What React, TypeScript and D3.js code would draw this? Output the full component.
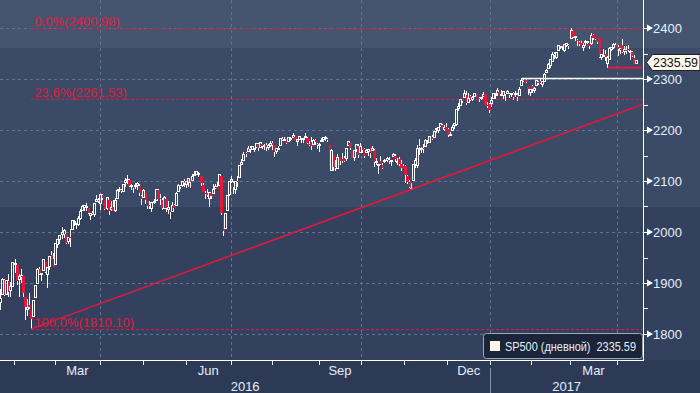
import * as d3 from 'd3';

// [day, open, high, low, close]
type Row = [number, number, number, number, number];

const jan16: Row[] = [
  [20, 1876, 1876, 1812, 1859], [21, 1861, 1889, 1848, 1869], [22, 1877, 1909, 1877, 1907], [25, 1906, 1907, 1875, 1877],
  [26, 1878, 1906, 1878, 1904], [27, 1903, 1917, 1872, 1883], [28, 1886, 1902, 1873, 1893], [29, 1894, 1940, 1894, 1940],
];
const feb16: Row[] = [
  [1, 1937, 1947, 1920, 1939], [2, 1935, 1935, 1897, 1903], [3, 1907, 1918, 1872, 1913], [4, 1911, 1927, 1900, 1915],
  [5, 1913, 1913, 1872, 1880], [8, 1873, 1873, 1828, 1853], [9, 1848, 1868, 1835, 1852], [10, 1857, 1881, 1850, 1852],
  [11, 1847, 1847, 1810.1, 1829], [12, 1834, 1865, 1834, 1865], [16, 1872, 1896, 1872, 1896], [17, 1899, 1930, 1899, 1927],
  [18, 1928, 1931, 1916, 1918], [19, 1916, 1918, 1903, 1918], [22, 1925, 1947, 1925, 1946], [23, 1942, 1942, 1920, 1921],
  [24, 1917, 1932, 1891, 1930], [25, 1932, 1952, 1926, 1952], [26, 1955, 1962, 1947, 1948], [29, 1948, 1958, 1932, 1932],
];
const mar16: Row[] = [
  [1, 1937, 1978, 1937, 1978], [2, 1976, 1987, 1969, 1986], [3, 1985, 1993, 1977, 1993], [4, 1995, 2009, 1987, 2000],
  [7, 1996, 2006, 1989, 2002], [8, 1996, 1996, 1977, 1979], [9, 1982, 1989, 1977, 1989], [10, 1991, 2006, 1970, 1990],
  [11, 2005, 2022, 2005, 2022], [14, 2019, 2024, 2012, 2020], [15, 2016, 2016, 2006, 2016], [16, 2015, 2032, 2011, 2027],
  [17, 2027, 2046, 2023, 2041], [18, 2042, 2053, 2042, 2050], [21, 2049, 2053, 2042, 2052], [22, 2049, 2056, 2041, 2050],
  [23, 2048, 2048, 2035, 2037], [24, 2032, 2036, 2023, 2036], [28, 2038, 2041, 2033, 2037], [29, 2035, 2056, 2029, 2055],
  [30, 2060, 2073, 2060, 2064], [31, 2063, 2067, 2057, 2060],
];
const apr16: Row[] = [
  [1, 2056, 2075, 2044, 2073], [4, 2073, 2074, 2062, 2066], [5, 2063, 2063, 2043, 2045], [6, 2046, 2068, 2043, 2067],
  [7, 2063, 2063, 2033, 2042], [8, 2045, 2060, 2041, 2048], [11, 2050, 2062, 2041, 2042], [12, 2043, 2066, 2040, 2062],
  [13, 2066, 2084, 2066, 2082], [14, 2082, 2088, 2078, 2083], [15, 2083, 2084, 2076, 2081], [18, 2079, 2095, 2078, 2094],
  [19, 2097, 2105, 2088, 2101], [20, 2101, 2111, 2094, 2102], [21, 2102, 2104, 2089, 2091], [22, 2092, 2095, 2082, 2092],
  [25, 2089, 2089, 2077, 2088], [26, 2090, 2096, 2085, 2092], [27, 2092, 2099, 2083, 2095], [28, 2091, 2094, 2071, 2076],
  [29, 2071, 2073, 2053, 2065],
];
const may16: Row[] = [
  [2, 2067, 2084, 2067, 2081], [3, 2077, 2077, 2054, 2063], [4, 2060, 2060, 2046, 2051], [5, 2053, 2060, 2045, 2051],
  [6, 2047, 2058, 2040, 2057], [9, 2057, 2065, 2054, 2059], [10, 2062, 2085, 2062, 2084], [11, 2083, 2084, 2064, 2064],
  [12, 2067, 2074, 2053, 2064], [13, 2063, 2067, 2044, 2047], [16, 2047, 2071, 2047, 2067], [17, 2065, 2065, 2040, 2047],
  [18, 2045, 2061, 2035, 2048], [19, 2044, 2044, 2025, 2040], [20, 2041, 2058, 2041, 2052], [23, 2053, 2055, 2048, 2048],
  [24, 2052, 2079, 2052, 2076], [25, 2079, 2094, 2079, 2091], [26, 2091, 2093, 2085, 2090], [27, 2091, 2099, 2089, 2099],
  [31, 2100, 2104, 2089, 2097],
];
const jun16: Row[] = [
  [1, 2093, 2100, 2086, 2099], [2, 2097, 2105, 2089, 2105], [3, 2104, 2104, 2086, 2099], [6, 2101, 2113, 2101, 2109],
  [7, 2110, 2120, 2110, 2112], [8, 2113, 2120, 2111, 2119], [9, 2115, 2117, 2107, 2115], [10, 2110, 2110, 2090, 2096],
  [13, 2092, 2096, 2078, 2079], [14, 2076, 2081, 2064, 2075], [15, 2077, 2085, 2069, 2072], [16, 2066, 2079, 2050, 2078],
  [17, 2077, 2077, 2065, 2071], [20, 2076, 2094, 2076, 2083], [21, 2085, 2094, 2084, 2089], [22, 2089, 2099, 2084, 2085],
  [23, 2092, 2113, 2092, 2113], [24, 2110, 2110, 2033, 2037], [27, 2031, 2031, 1992, 2001], [28, 2007, 2036, 2007, 2036],
  [29, 2043, 2071, 2043, 2071], [30, 2073, 2099, 2071, 2099],
];
const jul16: Row[] = [
  [1, 2099, 2109, 2097, 2103], [5, 2096, 2100, 2075, 2089], [6, 2084, 2100, 2074, 2100], [7, 2100, 2109, 2089, 2098],
  [8, 2107, 2131, 2107, 2130], [11, 2132, 2144, 2132, 2137], [12, 2140, 2156, 2140, 2152], [13, 2154, 2156, 2147, 2152],
  [14, 2158, 2169, 2158, 2164], [15, 2165, 2169, 2155, 2162], [18, 2162, 2169, 2160, 2167], [19, 2164, 2164, 2157, 2164],
  [20, 2166, 2175, 2166, 2173], [21, 2173, 2174, 2159, 2165], [22, 2166, 2175, 2164, 2175], [25, 2173, 2173, 2162, 2168],
  [26, 2169, 2173, 2161, 2169], [27, 2170, 2174, 2159, 2167], [28, 2166, 2173, 2160, 2170], [29, 2169, 2178, 2166, 2174],
];
const aug16: Row[] = [
  [1, 2174, 2178, 2161, 2171], [2, 2170, 2170, 2148, 2157], [3, 2157, 2164, 2153, 2164], [4, 2163, 2169, 2160, 2164],
  [5, 2169, 2183, 2169, 2183], [8, 2183, 2186, 2178, 2181], [9, 2182, 2187, 2180, 2182], [10, 2182, 2183, 2172, 2175],
  [11, 2178, 2186, 2178, 2186], [12, 2183, 2186, 2179, 2184], [15, 2186, 2194, 2186, 2190], [16, 2186, 2186, 2178, 2178],
  [17, 2178, 2183, 2169, 2182], [18, 2181, 2188, 2180, 2187], [19, 2184, 2185, 2175, 2184], [22, 2182, 2185, 2175, 2183],
  [23, 2187, 2194, 2186, 2187], [24, 2185, 2186, 2172, 2175], [25, 2173, 2179, 2169, 2172], [26, 2176, 2187, 2160, 2169],
  [29, 2171, 2183, 2171, 2180], [30, 2180, 2183, 2170, 2176], [31, 2173, 2174, 2162, 2171],
];
const sep16: Row[] = [
  [1, 2171, 2174, 2157, 2171], [2, 2178, 2185, 2176, 2180], [6, 2181, 2187, 2176, 2186], [7, 2186, 2188, 2179, 2186],
  [8, 2183, 2185, 2177, 2181], [9, 2170, 2170, 2128, 2128], [12, 2121, 2163, 2120, 2159], [13, 2151, 2151, 2120, 2127],
  [14, 2128, 2141, 2119, 2126], [15, 2125, 2152, 2124, 2147], [16, 2146, 2146, 2131, 2139], [19, 2143, 2154, 2135, 2139],
  [20, 2146, 2150, 2138, 2140], [21, 2145, 2165, 2139, 2163], [22, 2170, 2179, 2170, 2177], [23, 2174, 2174, 2161, 2165],
  [26, 2158, 2158, 2145, 2146], [27, 2146, 2161, 2140, 2160], [28, 2161, 2173, 2156, 2171], [29, 2169, 2173, 2146, 2151],
  [30, 2156, 2175, 2156, 2168],
];
const oct16: Row[] = [
  [3, 2164, 2164, 2154, 2161], [4, 2163, 2165, 2145, 2150], [5, 2155, 2163, 2155, 2160], [6, 2158, 2163, 2150, 2161],
  [7, 2164, 2165, 2145, 2154], [10, 2160, 2169, 2160, 2164], [11, 2161, 2163, 2128, 2137], [12, 2138, 2146, 2132, 2139],
  [13, 2131, 2131, 2114, 2133], [14, 2140, 2149, 2132, 2133], [17, 2132, 2135, 2124, 2126], [18, 2138, 2144, 2135, 2140],
  [19, 2140, 2148, 2138, 2144], [20, 2142, 2148, 2133, 2141], [21, 2139, 2142, 2130, 2141], [24, 2149, 2155, 2149, 2151],
  [25, 2150, 2152, 2137, 2143], [26, 2137, 2146, 2131, 2139], [27, 2144, 2147, 2130, 2133], [28, 2133, 2142, 2120, 2126],
  [31, 2129, 2133, 2125, 2126],
];
const nov16: Row[] = [
  [1, 2129, 2132, 2097, 2112], [2, 2110, 2112, 2094, 2098], [3, 2098, 2102, 2086, 2089], [4, 2085, 2096, 2083.79, 2085],
  [7, 2101, 2132, 2101, 2132], [8, 2132, 2146, 2126, 2140], [9, 2131, 2170, 2125, 2163], [10, 2168, 2182, 2151, 2167],
  [11, 2162, 2166, 2154, 2164], [14, 2165, 2172, 2154, 2164], [15, 2168, 2182, 2168, 2180], [16, 2177, 2180, 2172, 2177],
  [17, 2176, 2189, 2175, 2187], [18, 2187, 2190, 2180, 2182], [21, 2186, 2198, 2186, 2198], [22, 2202, 2204, 2195, 2203],
  [23, 2199, 2205, 2195, 2205], [25, 2207, 2214, 2207, 2213], [28, 2210, 2212, 2201, 2202], [29, 2201, 2210, 2198, 2205],
  [30, 2205, 2214, 2198, 2199],
];
const dec16: Row[] = [
  [1, 2201, 2203, 2187, 2191], [2, 2191, 2197, 2188, 2192], [5, 2200, 2210, 2200, 2205], [6, 2208, 2213, 2202, 2212],
  [7, 2211, 2242, 2208, 2241], [8, 2242, 2252, 2238, 2246], [9, 2249, 2259, 2248, 2260], [12, 2258, 2258, 2252, 2257],
  [13, 2263, 2278, 2262, 2272], [14, 2269, 2277, 2249, 2253], [15, 2254, 2272, 2254, 2262], [16, 2267, 2269, 2257, 2258],
  [19, 2259, 2267, 2257, 2263], [20, 2266, 2272, 2265, 2271], [21, 2270, 2271, 2264, 2265], [22, 2263, 2264, 2254, 2261],
  [23, 2261, 2264, 2258, 2264], [27, 2266, 2274, 2266, 2269], [28, 2270, 2271, 2250, 2250], [29, 2250, 2254, 2244, 2249],
  [30, 2251, 2253, 2234, 2239],
];
const jan17: Row[] = [
  [3, 2251, 2264, 2245, 2258], [4, 2261, 2273, 2261, 2271], [5, 2268, 2272, 2261, 2269], [6, 2272, 2283, 2266, 2277],
  [9, 2274, 2275, 2269, 2269], [10, 2269, 2279, 2266, 2269], [11, 2268, 2275, 2261, 2275], [12, 2272, 2272, 2257, 2270],
  [13, 2272, 2279, 2271, 2275], [17, 2270, 2272, 2263, 2268], [18, 2270, 2272, 2264, 2272], [19, 2272, 2274, 2259, 2264],
  [20, 2269, 2277, 2264, 2271], [23, 2268, 2272, 2257, 2265], [24, 2267, 2284, 2266, 2280], [25, 2288, 2300.99, 2288, 2298],
  [26, 2299, 2300, 2294, 2297], [27, 2299, 2300, 2292, 2295], [30, 2287, 2287, 2268, 2281], [31, 2274, 2279, 2267, 2279],
];
const feb17: Row[] = [
  [1, 2286, 2289, 2272, 2280], [2, 2277, 2284, 2273, 2281], [3, 2288, 2299, 2288, 2297], [6, 2294, 2296, 2288, 2293],
  [7, 2296, 2300, 2291, 2293], [8, 2290, 2296, 2285, 2295], [9, 2296, 2311, 2296, 2308], [10, 2312, 2319, 2312, 2316],
  [13, 2321, 2331, 2321, 2328], [14, 2327, 2338, 2321, 2338], [15, 2335, 2352, 2335, 2349], [16, 2350, 2352, 2339, 2347],
  [17, 2343, 2352, 2339, 2351], [21, 2355, 2367, 2355, 2365], [22, 2363, 2365, 2358, 2363], [23, 2368, 2369, 2356, 2364],
  [24, 2355, 2367, 2353, 2367], [27, 2366, 2371, 2362, 2370], [28, 2367, 2368, 2358, 2364],
];
const mar17: Row[] = [
  [1, 2380, 2400.98, 2380, 2396], [2, 2395, 2395, 2380, 2382], [3, 2381, 2384, 2375, 2383], [6, 2376, 2378, 2365, 2375],
  [7, 2373, 2375, 2365, 2368], [8, 2371, 2374, 2362, 2363], [9, 2362, 2370, 2354, 2365], [10, 2372, 2376, 2364, 2373],
  [13, 2371, 2374, 2368, 2373], [14, 2368, 2368, 2358, 2365], [15, 2370, 2390, 2366, 2385], [16, 2387, 2388, 2377, 2381],
  [17, 2384, 2385, 2377, 2378], [20, 2378, 2379, 2369, 2373], [21, 2380, 2381, 2341, 2344], [22, 2343, 2350, 2337, 2348],
  [23, 2346, 2358, 2343, 2346], [24, 2350, 2357, 2335, 2344], [27, 2330, 2345, 2322.25, 2342], [28, 2339, 2363, 2337, 2359],
  [29, 2357, 2363, 2354, 2361], [30, 2361, 2370, 2358, 2368], [31, 2366, 2370, 2362, 2363],
];
const apr17: Row[] = [
  [3, 2363, 2366, 2345, 2359], [4, 2356, 2361, 2350, 2360], [5, 2367, 2379, 2351, 2353], [6, 2353, 2365, 2348, 2357],
  [7, 2357, 2364, 2349, 2356], [10, 2358, 2367, 2352, 2357], [11, 2354, 2356, 2337, 2354], [12, 2353, 2354, 2343, 2345],
  [13, 2342, 2348, 2329, 2329], [14, 2331, 2337, 2330, 2335.59],
];

const monthBlocks: [number, number, Row[]][] = [
  [2016, 0, jan16], [2016, 1, feb16], [2016, 2, mar16], [2016, 3, apr16], [2016, 4, may16], [2016, 5, jun16],
  [2016, 6, jul16], [2016, 7, aug16], [2016, 8, sep16], [2016, 9, oct16], [2016, 10, nov16], [2016, 11, dec16],
  [2017, 0, jan17], [2017, 1, feb17], [2017, 2, mar17], [2017, 3, apr17],
];

const yTickValues = [1800, 1900, 2000, 2100, 2200, 2300, 2400];
const yMinorValues = [1850, 1950, 2050, 2150, 2250, 2350];
const monthNames = ['Jan', 'Feb', 'Mar', 'Apr', 'May', 'Jun', 'Jul', 'Aug', 'Sep', 'Oct', 'Nov', 'Dec'];
const labelledMonths = [2, 5, 8, 11];
const gridMonths = [0, 3, 6, 9];

const fibHigh = 2400.98;
const fibLow = 1810.1;
const fibRatios = [0, 0.236, 1];
const legendLabel = 'SP500 (дневной)';
const lastPrice = '2335.59';

interface Candle { date: Date; open: number; high: number; low: number; close: number }

const candles: Candle[] = monthBlocks.flatMap(([yr, m, rows]) =>
  rows.map(([d, o, h, l, c]) => ({ date: new Date(yr, m, d), open: o, high: h, low: l, close: c }))
);

// first candle index of each month
const monthStarts: { yr: number; m: number; idx: number }[] = [];
candles.forEach((c, i) => {
  const prev = candles[i - 1];
  if (!prev || prev.date.getMonth() !== c.date.getMonth()) {
    monthStarts.push({ yr: c.date.getFullYear(), m: c.date.getMonth(), idx: i });
  }
});
const startIdx = (yr: number, m: number) => monthStarts.find((s) => s.yr === yr && s.m === m)!.idx;
const findIdx = (yr: number, m: number, d: number) =>
  candles.findIndex((c) => c.date.getFullYear() === yr && c.date.getMonth() === m && c.date.getDate() === d);

const W = 700;
const H = 393;
const plotRight = 643;
const plotBottom = 360;

const x = d3.scaleLinear().domain([startIdx(2016, 1) - 0.5, startIdx(2017, 3) - 0.5]).range([14, 617]);
const y = d3.scaleLinear().domain([1800, 2400]).range([334, 28]);

const RED = '#e5183c';
const GRID = '#5a7692';
const TXT = '#e4eefa';

export default function App() {
  const lowIdx = findIdx(2016, 1, 11);
  const novIdx = findIdx(2016, 10, 4);
  const jan25Idx = findIdx(2017, 0, 25);
  const mar27Idx = findIdx(2017, 2, 27);
  const endIdx = x.invert(plotRight);
  const slope = (candles[novIdx].low - candles[lowIdx].low) / (novIdx - lowIdx);
  const trendEnd = candles[lowIdx].low + slope * (endIdx - lowIdx);

  const boundaries = monthStarts.map((s) => ({ ...s, px: x(s.idx - 0.5) })).filter((s) => s.px >= 0);
  const nextPx = (i: number) => (i + 1 < boundaries.length ? boundaries[i + 1].px : x(startIdx(2017, 3) + 21 - 0.5));
  const janPx = x(startIdx(2017, 0) - 0.5);

  return (
    <svg
      width={W}
      height={H}
      style={{ position: 'fixed', left: 0, top: 0, display: 'block' }}
      fontFamily="'Liberation Sans', Arial, sans-serif"
    >
      {/* background bands */}
      <rect x={0} y={0} width={W} height={H} fill="#2d3a56" />
      <rect x={0} y={0} width={W} height={48} fill="#46556f" />
      <rect x={0} y={48} width={W} height={159} fill="#3b4a66" />
      <rect x={0} y={207} width={W} height={plotBottom - 207} fill="#33415e" />

      {/* grid */}
      <g stroke={GRID} strokeDasharray="3,3" strokeWidth={1} shapeRendering="crispEdges">
        {yTickValues.map((v) => (
          <line key={v} x1={0} x2={plotRight} y1={Math.round(y(v)) + 0.5} y2={Math.round(y(v)) + 0.5} />
        ))}
        {boundaries
          .filter((b) => gridMonths.includes(b.m))
          .map((b) => (
            <line key={b.idx} x1={Math.round(b.px) + 0.5} x2={Math.round(b.px) + 0.5} y1={0} y2={plotBottom} />
          ))}
      </g>

      {/* fibonacci levels */}
      {fibRatios.map((r) => {
        const v = fibHigh - r * (fibHigh - fibLow);
        const yy = Math.round(y(v)) + 0.5;
        return (
          <g key={r}>
            <line x1={x(lowIdx)} x2={plotRight} y1={yy} y2={yy} stroke={RED} strokeDasharray="3,2" shapeRendering="crispEdges" />
            <text x={x(lowIdx) + 3} y={yy - 3} fill={RED} fontSize={13}>
              {`${(r * 100).toFixed(1)}%(${v.toFixed(2)})`}
            </text>
          </g>
        );
      })}

      {/* candles */}
      <g shapeRendering="crispEdges">
        {candles.map((c, i) => {
          const cx = x(i);
          if (cx < -3 || cx > plotRight) return null;
          const up = c.close >= c.open;
          const top = y(Math.max(c.open, c.close));
          const bot = y(Math.min(c.open, c.close));
          return (
            <g key={i}>
              <line x1={cx} x2={cx} y1={y(c.high)} y2={top} stroke="#fff" />
              <line x1={cx} x2={cx} y1={bot} y2={y(c.low)} stroke="#fff" />
              {up ? (
                <rect x={cx - 1} y={top} width={2} height={Math.max(bot - top, 1)} fill="none" stroke="#fff" />
              ) : (
                <rect x={cx - 1} y={top} width={2.5} height={Math.max(bot - top, 1)} fill={RED} />
              )}
            </g>
          );
        })}
      </g>

      {/* trend line and levels */}
      <line x1={x(lowIdx)} y1={y(candles[lowIdx].low)} x2={plotRight} y2={y(trendEnd)} stroke={RED} strokeWidth={1.5} />
      <line x1={x(jan25Idx)} x2={plotRight} y1={y(candles[jan25Idx].high)} y2={y(candles[jan25Idx].high)} stroke="#fff" strokeWidth={1.5} />
      <line x1={x(mar27Idx)} x2={plotRight} y1={y(candles[mar27Idx].low)} y2={y(candles[mar27Idx].low)} stroke={RED} strokeWidth={2} />

      {/* axes */}
      <line x1={plotRight + 0.5} x2={plotRight + 0.5} y1={0} y2={plotBottom} stroke="#fff" shapeRendering="crispEdges" />
      <line x1={0} x2={plotRight + 1} y1={plotBottom + 0.5} y2={plotBottom + 0.5} stroke="#fff" shapeRendering="crispEdges" />
      {yMinorValues.map((v) => (
        <line key={v} x1={plotRight} x2={plotRight + 5} y1={Math.round(y(v)) + 0.5} y2={Math.round(y(v)) + 0.5} stroke="#fff" shapeRendering="crispEdges" />
      ))}
      {yTickValues.map((v) => {
        const yy = Math.round(y(v)) + 0.5;
        return (
          <g key={v}>
            <path d={`M${plotRight + 1},${yy - 0.5}h3l0,-3.5l6,3.5l-6,3.5l0,-3.5z`} fill="#fff" />
            <line x1={plotRight} x2={plotRight + 6} y1={yy} y2={yy} stroke="#fff" />
            <text x={653} y={yy + 4.5} fill={TXT} fontSize={13}>
              {v}
            </text>
          </g>
        );
      })}

      {/* x axis */}
      {boundaries.map((b, i) => (
        <g key={b.idx}>
          <line x1={Math.round(b.px) + 0.5} x2={Math.round(b.px) + 0.5} y1={plotBottom} y2={plotBottom + 5} stroke="#fff" shapeRendering="crispEdges" />
          {labelledMonths.includes(b.m) && (
            <text x={(b.px + nextPx(i)) / 2} y={375} fill={TXT} fontSize={13} textAnchor="middle">
              {monthNames[b.m]}
            </text>
          )}
        </g>
      ))}
      <line x1={Math.round(janPx) + 0.5} x2={Math.round(janPx) + 0.5} y1={368} y2={H} stroke="#8393a8" shapeRendering="crispEdges" />
      <text x={janPx / 2} y={391} fill={TXT} fontSize={13} textAnchor="middle">2016</text>
      <text x={(janPx + plotRight) / 2} y={391} fill={TXT} fontSize={13} textAnchor="middle">2017</text>

      {/* last price tag */}
      <path d="M646.5,62.5L652.5,54.5H700V70.5H652.5Z" fill="#fff8ee" stroke="#222" strokeWidth={1} />
      <text x={653} y={67} fill="#111" fontSize={13} textLength={45} lengthAdjust="spacingAndGlyphs">{lastPrice}</text>

      {/* legend */}
      <rect x={483.5} y={333.5} width={159} height={25} rx={3} fill="#1b2438" stroke="#a0a8b4" />
      <rect x={490} y={341} width={10} height={10} fill="#fff4e8" />
      <text x={505} y={351} fill={TXT} fontSize={12.5} xmlSpace="preserve" textLength={131} lengthAdjust="spacingAndGlyphs">
        {`${legendLabel}  ${lastPrice}`}
      </text>
    </svg>
  );
}
